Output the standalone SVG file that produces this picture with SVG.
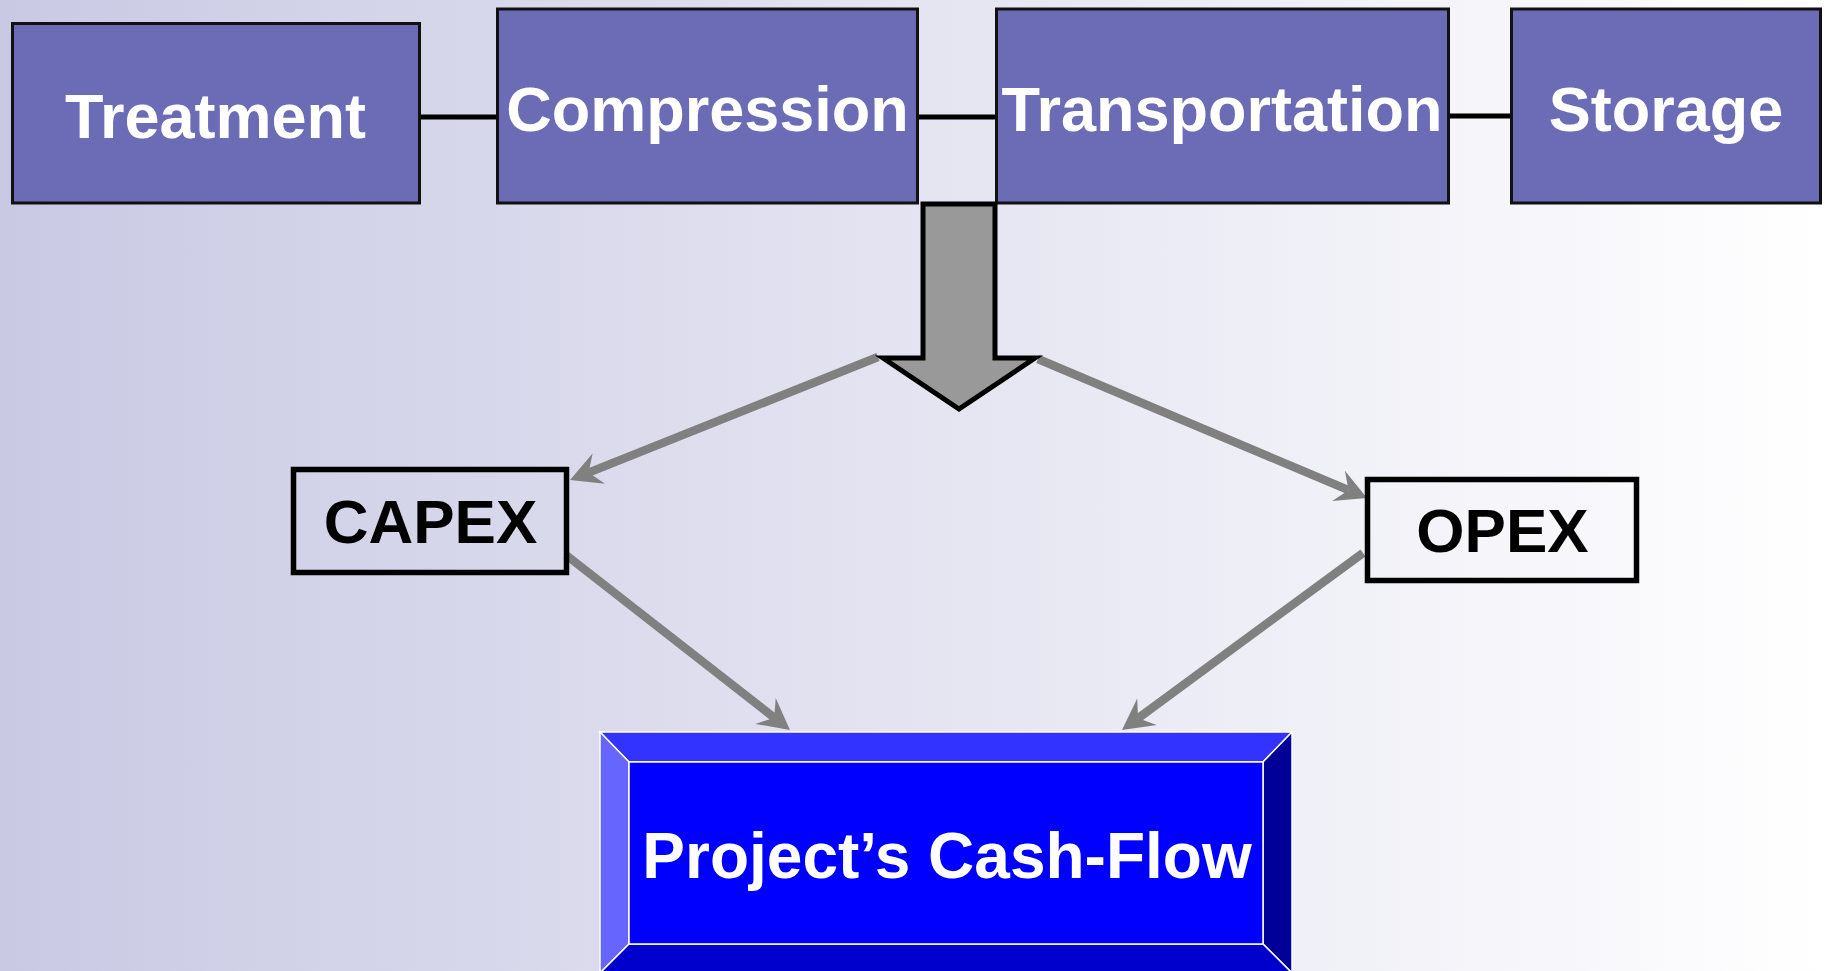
<svg xmlns="http://www.w3.org/2000/svg" width="1825" height="971" viewBox="0 0 1825 971">
  <defs>
    <linearGradient id="bg" x1="0" y1="0" x2="1" y2="0">
      <stop offset="0" stop-color="#C9C9E4"/>
      <stop offset="1" stop-color="#FFFFFF"/>
    </linearGradient>
    <!-- stealth arrowhead; (0,0) sits on the line end, tip 20px beyond it -->
    <marker id="head" markerUnits="userSpaceOnUse" orient="auto" markerWidth="60" markerHeight="60" refX="0" refY="0" viewBox="-30 -30 60 60" overflow="visible">
      <path d="M20,0 L-11,-16.5 L0,0 L-11,16.5 Z" fill="#808080"/>
    </marker>
    <style>
      .step rect { fill: #6B6CB5; stroke: #111; stroke-width: 3; }
      .step text { font-family: "Liberation Sans", Arial, sans-serif; font-weight: bold; font-size: 63px; fill: #FFFFFF; text-anchor: middle; }
      .cost rect { fill: none; stroke: #000; stroke-width: 5.5; }
      .cost text { font-family: "Liberation Sans", Arial, sans-serif; font-weight: bold; font-size: 62px; fill: #000; text-anchor: middle; }
      .link { stroke: #000; stroke-width: 5; fill: none; }
      .flow { stroke: #808080; stroke-width: 8.5; fill: none; marker-end: url(#head); }
      .bevel polygon, .bevel rect { stroke: #FFFFFF; stroke-width: 1.5; stroke-linejoin: miter; }
    </style>
  </defs>

  <rect x="0" y="0" width="1825" height="971" fill="url(#bg)"/>

  <!-- chain links between the process steps, and the cost flows -->
  <g id="connectors">
    <line class="link" x1="420" y1="117" x2="497" y2="117"/>
    <line class="link" x1="919" y1="117" x2="996" y2="117"/>
    <line class="link" x1="1450" y1="116" x2="1511" y2="116"/>
    <line class="flow" x1="878" y1="357" x2="588.6" y2="472.6"/>
    <line class="flow" x1="1038" y1="359" x2="1348.6" y2="490.2"/>
    <line class="flow" x1="566" y1="555" x2="774.2" y2="717.7"/>
    <line class="flow" x1="1363" y1="553" x2="1138.1" y2="718.2"/>
  </g>

  <g id="treatment" class="step">
    <rect x="12.5" y="23.5" width="407" height="179.5"/>
    <text x="215.5" y="138">Treatment</text>
  </g>
  <g id="compression" class="step">
    <rect x="497.5" y="9" width="420" height="194"/>
    <text x="707.5" y="131">Compression</text>
  </g>
  <g id="transportation" class="step">
    <rect x="996.5" y="9" width="452" height="194"/>
    <text x="1222" y="131">Transportation</text>
  </g>
  <g id="storage" class="step">
    <rect x="1511.5" y="9" width="309" height="194"/>
    <text x="1666" y="131">Storage</text>
  </g>

  <!-- block arrow from the chain down to the cost split -->
  <g id="split-arrow">
    <polygon points="923,204 995,204 995,358 1035,358 959,409 883,358 923,358" fill="#999999" stroke="#000" stroke-width="5" stroke-linejoin="miter"/>
  </g>

  <g id="capex" class="cost">
    <rect x="293.5" y="469.5" width="273" height="103"/>
    <text x="430.5" y="543">CAPEX</text>
  </g>
  <g id="opex" class="cost">
    <rect x="1367.5" y="479.5" width="269" height="101"/>
    <text x="1502.5" y="552" font-size="63">OPEX</text>
  </g>

  <!-- bevelled result block -->
  <g id="cash-flow" class="bevel">
    <polygon points="600,732 1292,732 1263,762 629,762" fill="#3333FF"/>
    <polygon points="600,732 629,762 629,944 600,973" fill="#6666FF"/>
    <polygon points="1292,732 1292,973 1263,944 1263,762" fill="#000099"/>
    <polygon points="600,973 629,944 1263,944 1292,973" fill="#0000CC"/>
    <rect x="629" y="762" width="634" height="182" fill="#0000FF"/>
    <text x="947" y="878" font-family="'Liberation Sans', Arial, sans-serif" font-weight="bold" font-size="64" fill="#FFFFFF" text-anchor="middle">Project’s Cash-Flow</text>
  </g>
</svg>
